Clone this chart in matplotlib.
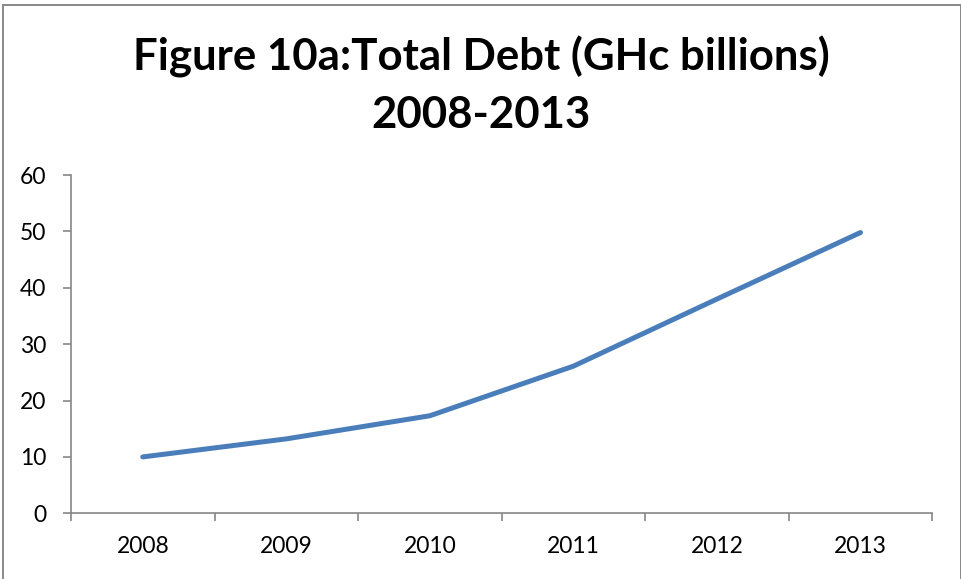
import matplotlib
matplotlib.use("Agg")
import matplotlib.pyplot as plt
from matplotlib.patches import Rectangle
from matplotlib.ticker import FixedLocator, NullFormatter

years = ["2008", "2009", "2010", "2011", "2012", "2013"]
total_debt = [10.0, 13.2, 17.3, 26.1, 38.0, 49.8]
y_ticks = [0, 10, 20, 30, 40, 50, 60]
title_line1 = "Figure 10a:Total Debt (GHc billions)"
title_line2 = "2008-2013"

plt.rcParams["font.family"] = ["Lato", "DejaVu Sans"]

W, H = 962, 579
fig = plt.figure(figsize=(W / 100, H / 100), dpi=100)
fig.patch.set_facecolor("white")

# chart border
fig.add_artist(Rectangle((2.5 / W, -0.05), (961 - 2.5) / W, 1.05 - 4.5 / H,
                         transform=fig.transFigure, fill=False,
                         edgecolor="#888888", linewidth=1.4))

ax = fig.add_axes([71 / W, (H - 513.3) / H, (932.3 - 71) / W, (513.3 - 175) / H])

x = list(range(len(years)))
ax.plot(x, total_debt, color="#4A7EBB", linewidth=3.6,
        solid_capstyle="round", solid_joinstyle="round")

ax.set_xlim(-0.5, len(years) - 0.5)
ax.set_ylim(0, 60)

grey = "#868686"
for side in ("top", "right"):
    ax.spines[side].set_visible(False)
for side in ("left", "bottom"):
    ax.spines[side].set_color(grey)
    ax.spines[side].set_linewidth(1.2)

# category boundaries carry the tick marks, centers carry the labels
ax.xaxis.set_major_locator(FixedLocator([i - 0.5 for i in range(len(years) + 1)]))
ax.xaxis.set_major_formatter(NullFormatter())
ax.xaxis.set_minor_locator(FixedLocator(x))
ax.set_xticklabels(years, minor=True)
ax.tick_params(axis="x", which="major", direction="out", length=6, width=1.2, color=grey)
ax.tick_params(axis="x", which="minor", length=0, pad=16, labelsize=16.5, labelcolor="black")

ax.set_yticks(y_ticks)
ax.tick_params(axis="y", direction="out", length=6, width=1.2, color=grey,
               pad=12, labelsize=16.5, labelcolor="black")

fig.text(481.5 / W, 1 - 70.7 / H, title_line1, ha="center", va="baseline",
         fontsize=31.5, fontweight="bold", color="black")
fig.text(481 / W, 1 - 128.3 / H, title_line2, ha="center", va="baseline",
         fontsize=31.5, fontweight="bold", color="black")

fig.savefig("out.png", dpi=100, facecolor="white")
